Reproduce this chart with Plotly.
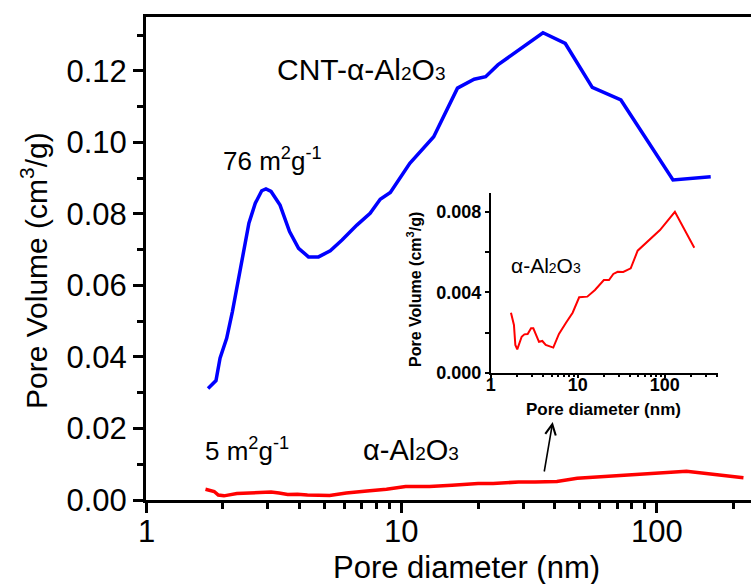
import math
import plotly.graph_objects as go

# ---- data ----
cnt_d = [1.75, 1.88, 1.95, 2.07, 2.18, 2.28, 2.41, 2.53, 2.68, 2.84, 2.95, 3.09, 3.35, 3.65,
         3.96, 4.33, 4.74, 5.27, 5.86, 6.70, 7.55, 8.27, 9.06, 10.8, 13.4, 16.6, 19.3, 21.4,
         23.9, 29.3, 35.9, 43.9, 56.0, 72.5, 116, 163]
cnt_v = [0.0312, 0.0334, 0.0397, 0.0452, 0.0527, 0.0601, 0.0695, 0.0774, 0.0830, 0.0865,
         0.0870, 0.0863, 0.0825, 0.0751, 0.0704, 0.0680, 0.0680, 0.0697, 0.0727, 0.0769,
         0.0802, 0.0841, 0.0860, 0.0942, 0.1016, 0.1152, 0.1177, 0.1184, 0.1217, 0.1263,
         0.1307, 0.1277, 0.1154, 0.1119, 0.0895, 0.0904]

al_d = [1.71, 1.85, 1.92, 2.02, 2.27, 2.44, 2.66, 2.91, 3.09, 3.32, 3.59, 3.92, 4.29, 5.24,
        6.09, 7.34, 8.75, 10.4, 12.9, 15.8, 20.0, 22.9, 25.7, 28.8, 33.4, 40.7, 48.9, 88.3,
        131, 219]
al_v = [0.00299, 0.00238, 0.00138, 0.00116, 0.00179, 0.00191, 0.00193, 0.00221, 0.00221,
        0.00193, 0.00154, 0.00158, 0.00138, 0.00125, 0.00193, 0.00249, 0.00299, 0.00376,
        0.00379, 0.00412, 0.00462, 0.00462, 0.00492, 0.00503, 0.00502, 0.0052, 0.00608,
        0.00711, 0.00802, 0.00623]

main_y_ticks = [0.00, 0.02, 0.04, 0.06, 0.08, 0.10, 0.12]
main_y_ticktext = ["0.00", "0.02", "0.04", "0.06", "0.08", "0.10", "0.12"]
main_y_minor = [0.01, 0.03, 0.05, 0.07, 0.09, 0.11, 0.13]
x_ticks = [1, 10, 100]
x_ticktext = ["1", "10", "100"]
x_minor = [2, 3, 4, 5, 6, 7, 8, 9, 20, 30, 40, 50, 60, 70, 80, 90, 200, 300, 400]
inset_y_ticks = [0.000, 0.004, 0.008]
inset_y_ticktext = ["0.000", "0.004", "0.008"]
inset_y_minor = [0.002, 0.006]

FONT = "Liberation Sans, Arial, sans-serif"
W, H = 751, 584
L, R, T, B = 146, 0, 17, 84
PW, PH = W - L - R, H - T - B


def px(x):
    return (x - L) / PW


def py(y):
    return (H - B - y) / PH


fig = go.Figure()
fig.add_trace(go.Scatter(x=cnt_d, y=cnt_v, mode="lines",
                         line=dict(color="#0000FF", width=3.5), xaxis="x", yaxis="y"))
fig.add_trace(go.Scatter(x=al_d, y=al_v, mode="lines",
                         line=dict(color="#FF0000", width=3.5), xaxis="x", yaxis="y"))
fig.add_trace(go.Scatter(x=al_d, y=al_v, mode="lines",
                         line=dict(color="#FF0000", width=2), xaxis="x2", yaxis="y2"))

ix0, ix1 = px(490.7), px(718)
iy0, iy1 = py(372.7), py(192.7)

fig.update_layout(
    width=W, height=H,
    margin=dict(l=L, r=R, t=T, b=B),
    paper_bgcolor="white", plot_bgcolor="rgba(0,0,0,0)",
    showlegend=False,
    font=dict(family=FONT, color="black"),
    xaxis=dict(type="log", range=[0, 2.37], domain=[0, 1],
               showline=True, linewidth=3, linecolor="black", mirror=True,
               showgrid=False, zeroline=False,
               tickmode="array", tickvals=x_ticks, ticktext=x_ticktext,
               showticklabels=False,
               ticks="outside", ticklen=10, tickwidth=3, tickcolor="black",
               minor=dict(tickvals=x_minor, ticks="outside", ticklen=6, tickwidth=3,
                          tickcolor="black", showgrid=False)),
    yaxis=dict(range=[0, 0.1351], domain=[0, 1],
               showline=True, linewidth=3, linecolor="black",
               showgrid=False, zeroline=False,
               tickmode="array", tickvals=main_y_ticks, ticktext=main_y_ticktext,
               ticks="outside", ticklen=10, tickwidth=3, tickcolor="black",
               tickfont=dict(size=31, family=FONT),
               minor=dict(tickvals=main_y_minor, ticks="outside", ticklen=6, tickwidth=3,
                          tickcolor="black", showgrid=False)),
    xaxis2=dict(type="log", range=[0, 2.613], domain=[ix0, ix1], anchor="y2",
                showline=True, linewidth=1.5, linecolor="black",
                showgrid=False, zeroline=False,
                tickmode="array", tickvals=x_ticks, ticktext=x_ticktext,
                ticks="outside", ticklen=4, tickwidth=1.5, tickcolor="black",
                ticklabelstandoff=-9,
                tickfont=dict(size=18, family=FONT, weight="bold"),
                minor=dict(tickvals=x_minor, ticks="outside", ticklen=3, tickwidth=1.5,
                           tickcolor="black", showgrid=False)),
    yaxis2=dict(range=[0, 0.00897], domain=[iy0, iy1], anchor="x2",
                showline=True, linewidth=1.5, linecolor="black",
                showgrid=False, zeroline=False,
                tickmode="array", tickvals=inset_y_ticks, ticktext=inset_y_ticktext,
                ticks="outside", ticklen=4, tickwidth=1.5, tickcolor="black",
                tickfont=dict(size=18, family=FONT, weight="bold"),
                minor=dict(tickvals=inset_y_minor, ticks="outside", ticklen=4, tickwidth=1.5,
                           tickcolor="black", showgrid=False)),
)

# main x tick labels, placed at the axis values
for v, t in zip(x_ticks, x_ticktext):
    fig.add_annotation(x=math.log10(v), xref="x", y=py(531), yref="paper", text=t,
                       showarrow=False, xanchor="center", yanchor="middle",
                       font=dict(size=31, family=FONT, color="black"))

sub = '<span style="font-size:{}px">{}</span>'


def alox(size, s):
    return ("α-Al" + sub.format(s, "2") + "O" + sub.format(s, "3"))


annots = [
    # axis titles
    dict(x=px(466), y=py(567), text="Pore diameter (nm)", font=dict(size=31)),
    dict(x=px(34), y=py(271), text="Pore Volume (cm<sup>3</sup>/g)", font=dict(size=30),
         textangle=-90),
    # curve labels
    dict(x=px(361), y=py(70), text="CNT-" + alox(30, 19), font=dict(size=30)),
    dict(x=px(272), y=py(160), text="76 m<sup>2</sup>g<sup>-1</sup>", font=dict(size=26)),
    dict(x=px(247), y=py(449), text="5 m<sup>2</sup>g<sup>-1</sup>", font=dict(size=26)),
    dict(x=px(411), y=py(450), text=alox(29, 19), font=dict(size=29)),
    # inset
    dict(x=px(546), y=py(265), text=alox(21, 14), font=dict(size=21)),
    dict(x=px(603), y=py(409), text="<b>Pore diameter (nm)</b>", font=dict(size=17)),
    dict(x=px(414), y=py(290), text="<b>Pore Volume (cm<sup>3</sup>/g)</b>", font=dict(size=16),
         textangle=-90),
]
for a in annots:
    a.update(xref="paper", yref="paper", showarrow=False, xanchor="center", yanchor="middle")
    a["font"].update(family=FONT, color="black")
    fig.add_annotation(**a)

fig.add_annotation(x=px(552.7), y=py(422), xref="paper", yref="paper", text="",
                   showarrow=True, ax=544 - 552.7, ay=473 - 422, axref="pixel", ayref="pixel",
                   arrowhead=5, arrowsize=1.3, arrowwidth=1.6, arrowcolor="black", standoff=0)

fig.write_html("out.html")
